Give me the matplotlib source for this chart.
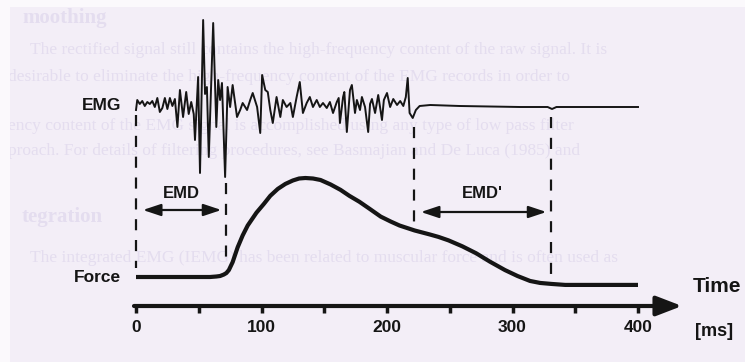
import matplotlib.pyplot as plt
from matplotlib.patches import Rectangle

# ===== data
# EMG trace: time [ms] and amplitude (arbitrary units, + = up)
emg_t = [0, 1, 3, 5, 7, 9, 11, 13, 15, 17, 19, 21, 23, 25, 27, 29, 31, 33, 35,
         37.5, 40, 42, 44, 46, 47, 49.5, 51, 53.5, 55, 56.5, 58, 61.5, 64,
         65.5, 67, 68.5, 71, 73, 75, 77, 80.5, 83, 85, 88.5, 91, 93, 96.5,
         99, 100.5, 103, 105, 107, 109, 112, 115, 117, 120, 123, 125, 128,
         130.5, 133, 136, 138.5, 141, 144, 146.5, 149, 152, 154.5, 157, 160,
         161.5, 162.5, 165, 166, 168, 170.5, 172, 174.5, 176, 178.5, 180,
         182.5, 185, 186.5, 188, 190.5, 193, 196, 197.5, 200, 202.5, 205,
         208, 210.5, 213, 215, 216.5, 218, 220.5, 223, 226, 234.5, 258, 306,
         328, 331.5, 335, 400]
emg_v = [-6, 4, 0, 3, -2, 2, 0, 3, -3, 6, -8, -4, 6, -5, 6, -2, 5, -23, 14,
         -13, 12, -10, 2, -10, -36, 27, -69, 84, 10, 17, -53, 81, -23,
         24, 4, 21, -73, 17, -3, 19, -13, -6, 1, -6, 4, 11, -3,
         -29, 29, 14, 12, -6, -19, 7, -13, 4, -3, 1, -13, 7,
         22, -9, 1, 7, -3, 4, -3, 1, -4, 2, -9, 2,
         6, -19, 7, 12, -28, 14, 19, -9, 4, -6, 7,
         -3, -28, 0, 5, -9, 9, -16, 4, 11, -3, 5,
         -1, 3, -2, 7, 26, -9, -14, -6, -2, -1, -2, -3,
         -3, -5, -3, -3]

# Force trace: time [ms] and normalised force
force_t = [0, 59, 64, 67, 70, 72, 74, 77, 81, 85, 89, 96, 102, 107, 113, 119,
           125, 130, 135, 141, 147, 155, 163, 170, 178, 186, 195, 203, 210,
           216, 222, 228, 234, 241, 249, 260, 271, 282, 294, 304, 314, 322,
           331, 342, 354, 400]
force_v = [0, 0, 0.005, 0.01, 0.025, 0.04, 0.07, 0.15, 0.30, 0.42, 0.52, 0.65,
           0.74, 0.82, 0.89, 0.94, 0.975, 0.995, 1.0, 0.995, 0.98, 0.935,
           0.88, 0.82, 0.76, 0.69, 0.61, 0.56, 0.52, 0.495, 0.47, 0.45, 0.43,
           0.405, 0.37, 0.31, 0.24, 0.155, 0.07, 0.01, -0.04, -0.06,
           -0.07, -0.08, -0.08, -0.08]

tick_ms = [0, 50, 100, 150, 200, 250, 300, 350, 400]
tick_labels = ["0", "100", "200", "300", "400"]

# markers (ms): EMG onset, force onset, EMG end, force end
emd_start, emd_end = 0, 72
emd2_start, emd2_end = 221.5, 331

# faint text from the printed page behind the figure
page_lines = [
    "moothing",
    "The rectified signal still contains the high-frequency content of the raw signal. It is",
    "desirable to eliminate the high-frequency content of the EMG records in order to",
    "ency content of the EMG signal is accomplished using any type of low pass filter",
    "proach. For details of filtering procedures, see Basmajian and De Luca (1985) and",
    "tegration",
    "The integrated EMG (IEMG) has been related to muscular force and is often used as",
]
page_y = [18, 50, 77, 126, 151, 217, 258]

# ===== layout (screen pixels of the original 745x362 picture)
ink = "#151515"
px0, px_per_ms = 136, 1.255
emg_base, emg_gain = 104, 1.0
force_base, force_gain = 277, 99
axis_y = 306


def ms(px):
    return (px - px0) / px_per_ms


plt.rcParams["font.family"] = ["Liberation Sans", "DejaVu Sans"]
plt.rcParams["lines.scale_dashes"] = False

fig = plt.figure(figsize=(7.45, 3.62), dpi=100)
fig.patch.set_facecolor("#f3eef7")
fig.patches.append(Rectangle((0, 0.98), 1, 0.02, transform=fig.transFigure,
                             facecolor="#fbf9fc", edgecolor="none", zorder=0))
fig.patches.append(Rectangle((0, 0), 0.013, 1, transform=fig.transFigure,
                             facecolor="#fbf9fc", edgecolor="none", zorder=0))

ax = fig.add_axes([0, 0, 1, 1])
ax.set_facecolor("none")
ax.set_xlim(ms(0), ms(745))
ax.set_ylim(362, 0)
ax.axis("off")

# background page text (very faint)
for line, y in zip(page_lines, page_y):
    bold = line in ("moothing", "tegration")
    x0 = ms(22) if bold else (ms(30) if line.startswith("The") else ms(8))
    ax.text(x0, y, line, family=["Liberation Serif", "DejaVu Serif"],
            fontsize=15 if bold else 12.5, weight="bold" if bold else "normal",
            color="#e4ddef", va="center", ha="left", zorder=0)

# EMG and force traces
ax.plot(emg_t, [emg_base - v * emg_gain for v in emg_v], color=ink, lw=1.4,
        zorder=3)
ax.plot(force_t, [force_base - v * force_gain for v in force_v], color=ink,
        lw=3, solid_capstyle="butt", solid_joinstyle="round", zorder=3)

# dashed markers
dash = dict(color=ink, lw=1.6, linestyle=(0, (8, 7)), zorder=2)
ax.plot([emd_start, emd_start], [115, 268], **dash)
ax.plot([emd_end, emd_end], [183, 262], **dash)
ax.plot([emd2_start, emd2_start], [127, 225], **dash)
ax.plot([emd2_end, emd2_end], [117, 277], **dash)

# EMD arrows and labels
arrow = dict(arrowstyle="<|-|>,head_length=0.9,head_width=0.3", color=ink,
             lw=1.6, shrinkA=0, shrinkB=0, mutation_scale=12)
ax.annotate("", xy=(emd_end - 4, 210), xytext=(emd_start + 5.5, 210),
            arrowprops=arrow)
ax.annotate("", xy=(emd2_end - 4, 212), xytext=(emd2_start + 5.5, 212),
            arrowprops=arrow)
ax.text((emd_start + emd_end) / 2, 193, "EMD", fontsize=12, weight="bold",
        ha="center", va="center", color=ink)
ax.text((emd2_start + emd2_end) / 2, 193, "EMD'", fontsize=12, weight="bold",
        ha="center", va="center", color=ink)

# trace labels
ax.text(ms(121), 106, "EMG", fontsize=12.5, weight="bold", ha="right",
        va="center", color=ink)
ax.text(ms(121), 277, "Force", fontsize=12.5, weight="bold", ha="right",
        va="center", color=ink)

# time axis with arrow head
ax.annotate("", xy=(ms(682), axis_y), xytext=(ms(134), axis_y),
            arrowprops=dict(arrowstyle="-|>,head_length=1.3,head_width=0.5",
                            color=ink, lw=3, shrinkA=0, shrinkB=0,
                            mutation_scale=12))
for t in tick_ms:
    ax.plot([t, t], [axis_y, axis_y + 7], color=ink, lw=2.5,
            solid_capstyle="butt")
for t, lab in zip(tick_ms[::2], tick_labels):
    ax.text(t, 328, lab, fontsize=12.5, weight="bold", ha="center",
            va="center", color=ink)
ax.text(ms(693), 287, "Time", fontsize=15, weight="bold", ha="left",
        va="center", color=ink)
ax.text(ms(695), 332, "[ms]", fontsize=13, weight="bold", ha="left",
        va="center", color=ink)

fig.savefig("out.png", dpi=100, facecolor=fig.get_facecolor())
